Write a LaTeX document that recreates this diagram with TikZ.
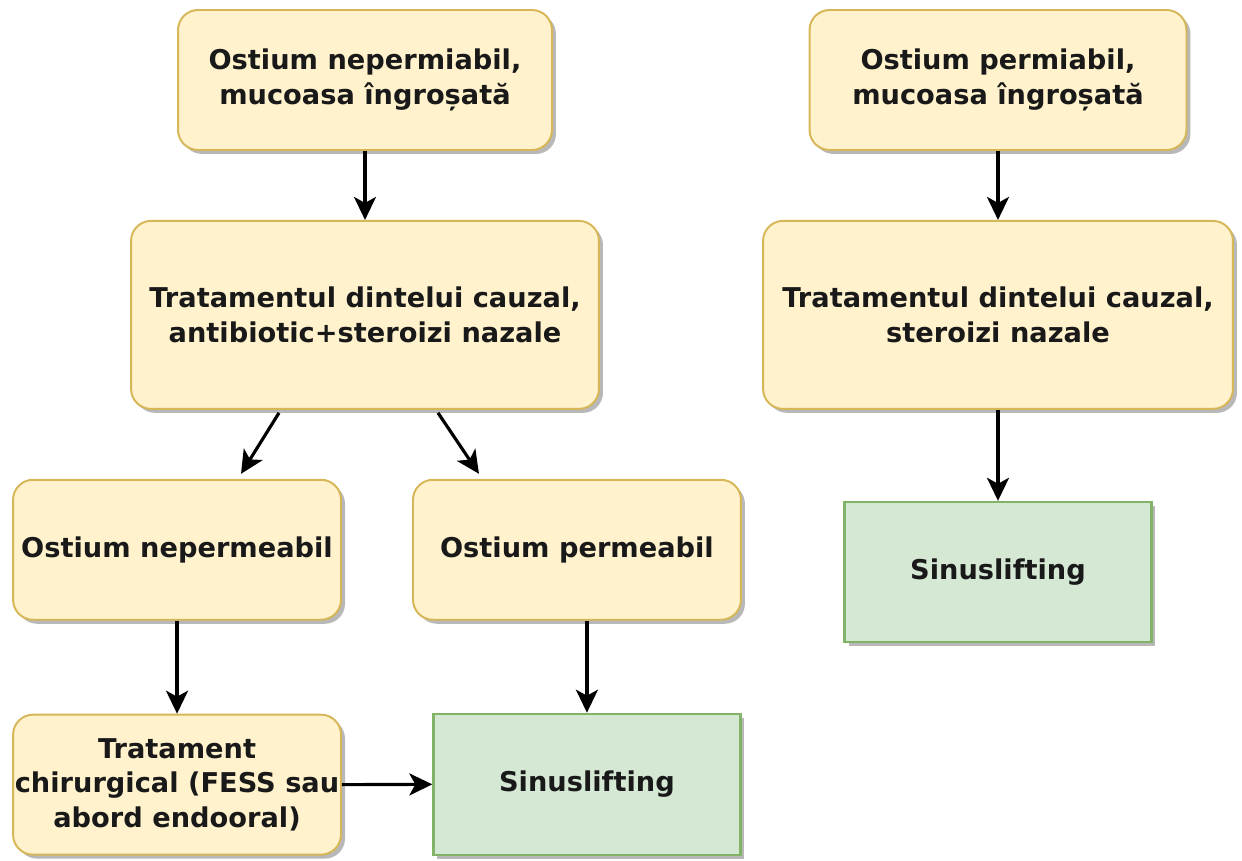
\documentclass[tikz,border=0pt]{standalone}
\usepackage{fontspec}
\setmainfont{DejaVu Sans}
\usepackage{tikz}
\usetikzlibrary{positioning,arrows.meta,shadows}

\definecolor{notefill}{HTML}{FFF2CC}
\definecolor{notedraw}{HTML}{D6B656}
\definecolor{endfill}{HTML}{D5E8D4}
\definecolor{enddraw}{HTML}{82B366}

\begin{document}
\begin{tikzpicture}[
    x=0.02cm, y=-0.02cm,
    stepbox/.style={rectangle, rounded corners=0.4cm, draw=notedraw, fill=notefill, line width=1.1pt,
        align=center, font=\fontsize{15.5pt}{19.6pt}\selectfont\bfseries, text=black!90, inner xsep=1pt,
        drop shadow={shadow xshift=0.08cm, shadow yshift=-0.08cm, fill=black!35, opacity=0.8}},
    endbox/.style={rectangle, draw=enddraw, fill=endfill, line width=1.3pt,
        align=center, font=\fontsize{15.5pt}{19.6pt}\selectfont\bfseries, text=black!90,
        drop shadow={shadow xshift=0.08cm, shadow yshift=-0.08cm, fill=black!35, opacity=0.8}},
    flow/.style={-{Stealth[length=0.46cm, width=0.44cm, inset=0.12cm]}, line width=1.8pt}
]
\useasboundingbox (0,0) rectangle (1242,861);

% Left branch: impermeable ostium
\node[stepbox, minimum width=7.48cm, minimum height=2.8cm] (nep) at (365,80)
    {Ostium nepermiabil,\\mucoasa îngroșată};
\node[stepbox, minimum width=9.36cm, minimum height=3.76cm, below=1.38cm of nep] (tratA)
    {Tratamentul dintelui cauzal,\\antibiotic+steroizi nazale};
\node[stepbox, minimum width=6.56cm, minimum height=2.8cm, below=1.38cm of tratA, xshift=-3.76cm] (ostNep)
    {Ostium nepermeabil};
\node[stepbox, minimum width=6.56cm, minimum height=2.8cm, below=1.38cm of tratA, xshift=4.24cm] (ostPer)
    {Ostium permeabil};
\node[stepbox, minimum width=6.56cm, minimum height=2.8cm, below=1.86cm of ostNep] (chir)
    {Tratament\\chirurgical (FESS sau\\abord endooral)};
\node[endbox, minimum width=6.14cm, minimum height=2.82cm, below=1.84cm of ostPer, xshift=0.2cm] (sinA)
    {Sinuslifting};

% Right branch: permeable ostium
\node[stepbox, minimum width=7.54cm, minimum height=2.8cm] (per) at (998,80)
    {Ostium permiabil,\\mucoasa îngroșată};
\node[stepbox, minimum width=9.4cm, minimum height=3.76cm, below=1.38cm of per] (tratB)
    {Tratamentul dintelui cauzal,\\steroizi nazale};
\node[endbox, minimum width=6.14cm, minimum height=2.8cm, below=1.82cm of tratB] (sinB)
    {Sinuslifting};

% Connections
\draw[flow] (nep.south) -- (tratA.north);
\draw[flow] ([xshift=-1.72cm, yshift=-0.06cm]tratA.south) -- ([xshift=1.28cm, yshift=0.1cm]ostNep.north);
\draw[flow] ([xshift=1.46cm, yshift=-0.06cm]tratA.south) -- ([xshift=-1.96cm, yshift=0.1cm]ostPer.north);
\draw[flow] (ostNep.south) -- (chir.north);
\draw[flow] ([xshift=0.2cm]ostPer.south) -- (sinA.north);
\draw[flow] (chir.east) -- (sinA.west);
\draw[flow] (per.south) -- (tratB.north);
\draw[flow] (tratB.south) -- (sinB.north);

\end{tikzpicture}
\end{document}
